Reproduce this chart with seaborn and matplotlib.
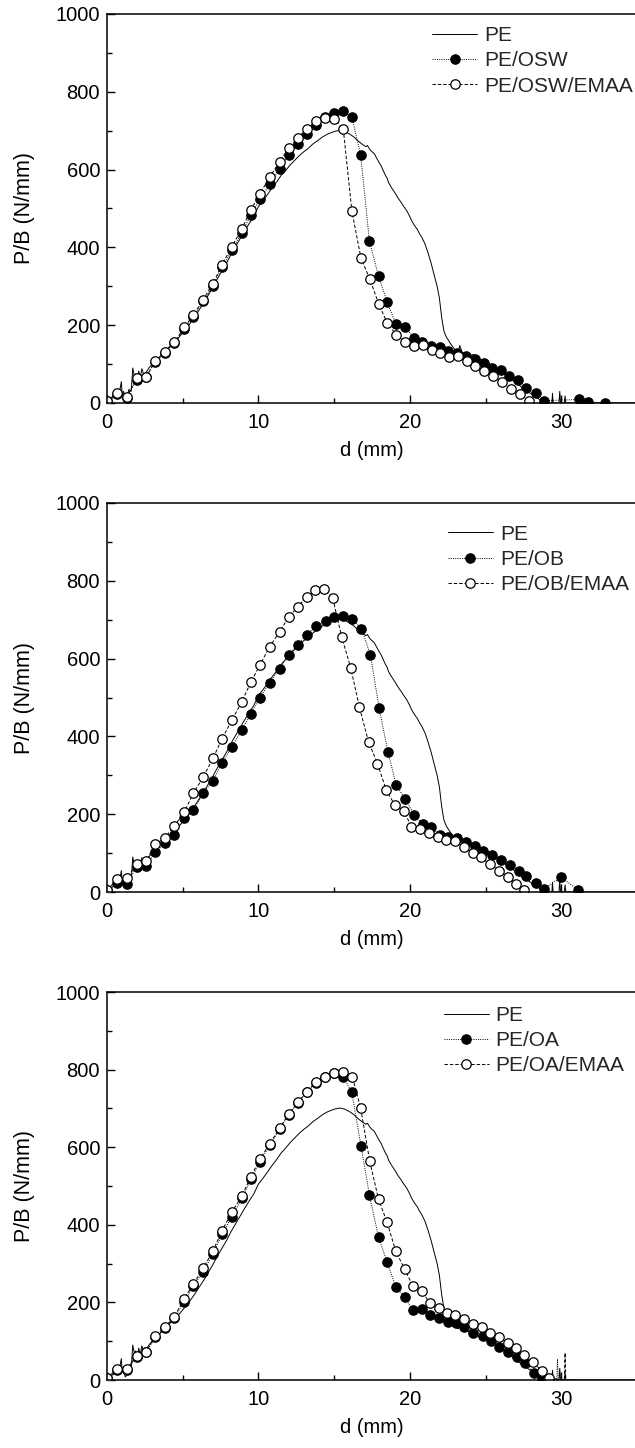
import numpy as np
import pandas as pd
import matplotlib
matplotlib.use("Agg")
import matplotlib.pyplot as plt
from matplotlib.lines import Line2D
import seaborn as sns

# ---------------- data ----------------
pe_x = [0.0, 0.2, 0.4, 0.6, 0.8, 0.9, 0.95, 1.0, 1.1, 1.2, 1.3, 1.45, 1.6, 1.7, 1.8, 1.9,
        2.0, 2.1, 2.2, 2.3, 2.45, 2.6, 2.8, 3.0, 3.2, 3.4, 3.6, 3.8, 4.0, 4.3, 4.6, 4.9,
        5.2, 5.5, 5.8, 6.1, 6.4, 6.7, 7.0, 7.3, 7.6, 7.9, 8.2, 8.5, 8.8, 9.1, 9.4, 9.7,
        10.0, 10.3, 10.6, 10.9, 11.2, 11.5, 11.8, 12.1, 12.4, 12.7, 13.0, 13.3, 13.6, 13.9,
        14.2, 14.5, 14.8, 15.1, 15.4, 15.7, 16.0, 16.3, 16.6, 16.9, 17.1, 17.2, 17.35, 17.5,
        17.65, 17.8, 18.0, 18.1, 18.2, 18.4, 18.5, 18.6, 18.8, 19.0, 19.1, 19.2, 19.4, 19.5,
        19.6, 19.8, 20.0, 20.1, 20.2, 20.4, 20.5, 20.6, 20.8,
        21.0, 21.2, 21.4, 21.6, 21.8, 21.95, 22.1, 22.25, 22.4, 22.6, 22.8, 23.0, 23.2, 23.3,
        23.45, 23.7, 24.0, 24.2, 24.4, 24.7, 25.0, 25.3, 25.6, 25.9, 26.2, 26.5, 26.8, 27.1,
        27.4, 27.7, 28.0, 28.3, 28.6, 28.9, 29.2, 29.38, 29.42, 29.46, 29.85, 29.9, 29.95,
        30.2, 30.25, 30.3, 31.0, 35.0]
pe_y = [0, 8, 14, 18, 20, 45, 55, 20, 30, 8, 12, 35, 30, 90, 70, 75,
        60, 82, 65, 88, 70, 80, 92, 100, 108, 115, 124, 132, 140, 151, 162, 176,
        190, 205, 222, 240, 258, 278, 298, 320, 340, 360, 383, 403, 423, 443, 462, 480,
        505, 520, 536, 553, 568, 585, 598, 612, 624, 636, 646, 655, 666, 674,
        683, 690, 695, 699, 701, 698, 692, 684, 673, 664, 659, 662, 652, 646,
        641, 630, 616, 610, 601, 584, 578, 566, 553, 541, 535, 528, 517, 511,
        505, 494, 479, 470, 463, 451, 446, 438, 425,
        409, 386, 360, 330, 300, 270, 220, 185, 170, 158, 146, 136, 132, 148,
        130, 128, 122, 125, 115, 112, 108, 100, 92, 85, 76, 68, 58, 50,
        40, 32, 24, 16, 8, 2, 0, 0, 25, 0, 0, 30, 0,
        0, 18, 0, 0, 0]

# Panel 1: PE/OSW (filled) and PE/OSW/EMAA (open)
osw_x = [0, 0.66, 1.3, 1.97, 2.57, 3.2, 3.8, 4.45, 5.1, 5.7, 6.35, 7.0, 7.6, 8.25, 8.9,
         9.5, 10.1, 10.75, 11.4, 12.0, 12.6, 13.2, 13.8, 14.4, 15.0, 15.6, 16.17, 16.75,
         17.33, 17.93, 18.5, 19.07, 19.67, 20.26, 20.83, 21.4, 22.0, 22.55, 23.1, 23.7,
         24.3, 24.9, 25.45, 26.0, 26.55, 27.15, 27.7, 28.3, 28.85, 31.2, 31.75, 32.9]
osw_y = [5, 22, 14, 60, 68, 106, 128, 153, 190, 220, 262, 301, 350, 393, 438,
         483, 524, 563, 601, 637, 666, 691, 715, 735, 745, 751, 735, 638,
         416, 326, 260, 203, 196, 168, 158, 147, 143, 134, 128, 122,
         112, 102, 89, 84, 69, 58, 39, 26, 6, 9, 3, 0]
osw_emaa_x = [0, 0.66, 1.3, 1.97, 2.57, 3.2, 3.8, 4.45, 5.1, 5.7, 6.35, 7.0, 7.6, 8.25, 8.9,
              9.5, 10.1, 10.75, 11.4, 12.0, 12.6, 13.2, 13.8, 14.4, 15.0, 15.6, 16.17, 16.77,
              17.36, 17.95, 18.5, 19.1, 19.7, 20.3, 20.9, 21.45, 22.0, 22.6, 23.2, 23.75,
              24.3, 24.9, 25.5, 26.1, 26.7, 27.3, 27.85]
osw_emaa_y = [5, 26, 16, 63, 66, 109, 131, 156, 195, 225, 266, 307, 356, 402, 448,
              496, 538, 581, 620, 656, 682, 705, 726, 733, 729, 705, 494, 373,
              318, 254, 206, 175, 156, 147, 148, 136, 128, 117, 121, 108,
              96, 83, 69, 55, 37, 23, 4]

# Panel 2: PE/OB (filled) and PE/OB/EMAA (open)
ob_x = [0, 0.66, 1.3, 1.97, 2.57, 3.2, 3.8, 4.45, 5.1, 5.7, 6.35, 7.0, 7.6, 8.25, 8.9,
        9.5, 10.1, 10.75, 11.4, 12.0, 12.6, 13.2, 13.8, 14.43, 15.0, 15.6, 16.2, 16.8,
        17.4, 17.97, 18.55, 19.1, 19.7, 20.3, 20.85, 21.4, 22.0, 22.55, 23.1, 23.7,
        24.3, 24.85, 25.4, 26.0, 26.6, 27.2, 27.7, 28.3, 28.85, 30.0, 31.1]
ob_y = [5, 22, 20, 65, 67, 102, 125, 146, 189, 211, 254, 286, 332, 374, 416,
        458, 500, 538, 574, 610, 636, 661, 684, 697, 706, 709, 701, 677,
        609, 473, 360, 275, 238, 198, 175, 166, 147, 142, 138, 129,
        119, 106, 95, 83, 70, 55, 41, 23, 8, 38, 5]
ob_emaa_x = [0, 0.68, 1.3, 1.97, 2.57, 3.2, 3.8, 4.45, 5.1, 5.7, 6.35, 7.0, 7.6, 8.25, 8.9,
             9.5, 10.1, 10.75, 11.4, 12.0, 12.6, 13.2, 13.75, 14.32, 14.9, 15.5, 16.1, 16.67,
             17.27, 17.86, 18.44, 19.0, 19.6, 20.1, 20.7, 21.27, 21.85, 22.4, 23.0, 23.6,
             24.15, 24.7, 25.3, 25.9, 26.45, 27.0, 27.55]
ob_emaa_y = [5, 33, 35, 72, 80, 123, 138, 170, 205, 254, 295, 344, 394, 442, 489,
             539, 584, 631, 669, 707, 733, 759, 776, 778, 757, 656, 575, 475,
             386, 330, 262, 224, 209, 168, 161, 152, 141, 134, 132, 115,
             101, 89, 71, 55, 39, 21, 5]

# Panel 3: PE/OA (filled) and PE/OA/EMAA (open)
oa_x = [0, 0.66, 1.3, 1.97, 2.57, 3.2, 3.8, 4.45, 5.1, 5.7, 6.35, 7.0, 7.6, 8.25, 8.9,
        9.5, 10.1, 10.75, 11.4, 12.0, 12.6, 13.2, 13.8, 14.4, 15.0, 15.6, 16.17, 16.77,
        17.33, 17.93, 18.5, 19.07, 19.65, 20.2, 20.8, 21.35, 21.9, 22.5, 23.05, 23.6,
        24.2, 24.8, 25.35, 25.9, 26.5, 27.05, 27.6, 28.2, 28.75]
oa_y = [5, 25, 25, 60, 72, 110, 133, 160, 202, 242, 279, 326, 376, 421, 468,
        517, 563, 605, 646, 684, 714, 742, 765, 780, 790, 782, 741, 604,
        477, 368, 304, 240, 213, 180, 182, 168, 159, 150, 146, 136,
        122, 114, 101, 84, 73, 58, 43, 19, 6]
oa_emaa_x = [0, 0.66, 1.3, 1.97, 2.57, 3.2, 3.8, 4.45, 5.1, 5.7, 6.35, 7.0, 7.6, 8.25, 8.9,
             9.5, 10.1, 10.75, 11.4, 12.0, 12.6, 13.2, 13.8, 14.4, 15.0, 15.6, 16.2, 16.75,
             17.35, 17.93, 18.5, 19.07, 19.65, 20.2, 20.8, 21.3, 21.9, 22.45, 23.0, 23.6,
             24.2, 24.75, 25.3, 25.9, 26.45, 27.0, 27.55, 28.1, 28.7, 29.2]
oa_emaa_y = [5, 28, 28, 63, 72, 114, 136, 163, 210, 247, 288, 333, 385, 433, 474,
             524, 569, 609, 649, 686, 716, 743, 768, 782, 792, 795, 782, 701,
             564, 466, 406, 332, 286, 242, 229, 199, 185, 173, 168, 156,
             144, 136, 120, 112, 96, 82, 65, 47, 24, 5]
# noisy tails (no markers) after the last point
oa_tail_x = [28.75, 29.7, 29.75, 29.8, 30.5]
oa_tail_y = [6, 0, 54, 0, 0]
oa_emaa_tail_x = [29.2, 30.2, 30.25, 30.3, 31.0]
oa_emaa_tail_y = [5, 0, 70, 0, 0]

panel_labels = [["PE", "PE/OSW", "PE/OSW/EMAA"],
                ["PE", "PE/OB", "PE/OB/EMAA"],
                ["PE", "PE/OA", "PE/OA/EMAA"]]

x_ticks = [0, 10, 20, 30]
y_ticks = [0, 200, 400, 600, 800, 1000]

# ---------------- style ----------------
sns.set_theme(style="ticks")
plt.rcParams["font.family"] = ["Liberation Sans", "DejaVu Sans"]
plt.rcParams["font.size"] = 14.5
plt.rcParams["axes.linewidth"] = 1.1

W, H = 635, 1448
fig = plt.figure(figsize=(W / 100, H / 100), dpi=100)

left = 107 / W
width = (637 - 107) / W
panels_px = [(14, 403), (503, 892), (992, 1380)]
legend_anchor = [(0.614, 0.968), (0.643, 0.944), (0.635, 0.963)]

filled_style = dict(color="black", linewidth=0.7, linestyle=(0, (1, 1.3)),
                    marker="o", markersize=6.8, markerfacecolor="black",
                    markeredgecolor="black", markeredgewidth=0.8)
open_style = dict(color="black", linewidth=0.7, linestyle=(0, (3.5, 2)),
                  marker="o", markersize=6.8, markerfacecolor="white",
                  markeredgecolor="black", markeredgewidth=0.9)
pe_style = dict(color="black", linewidth=0.7, linestyle="-")

series = [
    (osw_x, osw_y, osw_emaa_x, osw_emaa_y, None),
    (ob_x, ob_y, ob_emaa_x, ob_emaa_y, None),
    (oa_x, oa_y, oa_emaa_x, oa_emaa_y, (oa_tail_x, oa_tail_y, oa_emaa_tail_x, oa_emaa_tail_y)),
]

for i, (top_px, bot_px) in enumerate(panels_px):
    ax = fig.add_axes([left, 1 - bot_px / H, width, (bot_px - top_px) / H])
    fx, fy, ox, oy, tails = series[i]

    sns.lineplot(x=pe_x, y=pe_y, ax=ax, sort=False, estimator=None, legend=False, **pe_style)
    if tails is not None:
        sns.lineplot(x=tails[0], y=tails[1], ax=ax, sort=False, estimator=None, legend=False,
                     color="black", linewidth=0.7, linestyle=(0, (1, 1.3)))
        sns.lineplot(x=tails[2], y=tails[3], ax=ax, sort=False, estimator=None, legend=False,
                     color="black", linewidth=0.7, linestyle=(0, (3.5, 2)))
    sns.lineplot(x=fx, y=fy, ax=ax, sort=False, estimator=None, legend=False, **filled_style)
    sns.lineplot(x=ox, y=oy, ax=ax, sort=False, estimator=None, legend=False, **open_style)

    ax.set_xlim(0, 35)
    ax.set_ylim(0, 1000)
    ax.set_xticks(x_ticks)
    ax.set_yticks(y_ticks)
    ax.set_xticks([5, 15, 25], minor=True)
    ax.set_yticks([100, 300, 500, 700, 900], minor=True)
    ax.tick_params(which="both", direction="in", top=False, right=False, colors="black",
                   labelsize=14.5)
    ax.tick_params(axis="x", which="major", length=6, width=1.0, pad=7)
    ax.tick_params(axis="y", which="major", length=6, width=1.0, pad=5)
    ax.tick_params(which="minor", length=3.5, width=1.0)
    for s in ["left", "bottom", "top", "right"]:
        ax.spines[s].set_visible(True)
        ax.spines[s].set_color("black")
        ax.spines[s].set_linewidth(1.1)

    ax.set_xlabel("d (mm)", fontsize=14.5, labelpad=7, color="black")
    ax.set_ylabel("P/B (N/mm)", fontsize=15.5, labelpad=15, color="black")

    handles = [Line2D([], [], **pe_style),
               Line2D([], [], **filled_style),
               Line2D([], [], **open_style)]
    ax.legend(handles, panel_labels[i], loc="upper left",
              bbox_to_anchor=legend_anchor[i], frameon=False, fontsize=15,
              handlelength=2.16, handletextpad=0.34, labelspacing=0.29,
              borderpad=0, borderaxespad=0)

fig.savefig("out.png", dpi=100, facecolor="white")
